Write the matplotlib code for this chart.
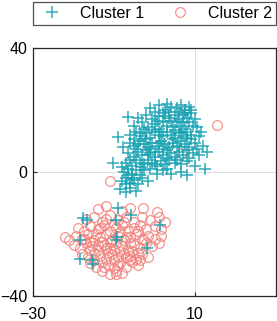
import matplotlib
matplotlib.use("Agg")
import matplotlib.pyplot as plt

plt.rcParams["font.family"] = ["Liberation Sans", "DejaVu Sans"]

# Cluster 1 points (x, y)
cluster1 = [
    # top rows
    (-1, 20.5), (1, 21.5), (2.5, 20), (4, 21), (5.5, 20.5), (6.5, 21.5), (7.5, 20), (8.5, 21), (3, 22), (0, 19.5),
    (-4, 17.5), (-2, 18.5), (-0.5, 17), (1, 18), (2, 19), (3.5, 17.5), (5, 18.5), (6, 17), (7, 18.5), (8, 17.5), (9, 19), (10, 17),
    (-5, 15), (-3, 16), (-1.5, 14.5), (0, 15.5), (1, 14), (2, 16), (3, 15), (4.5, 14.5), (5.5, 16), (6.5, 15), (7.5, 14), (8.5, 16), (9.5, 15), (10.5, 14.5),
    (-6, 12), (-4.5, 13), (-3, 11.5), (-2, 12.5), (-1, 11), (0, 13), (1, 12), (2, 11.5), (3, 13), (4, 12), (5, 11), (6, 12.5), (7, 11.5), (8, 13), (9, 12), (11, 11.5),
    (-7.8, 8), (-6, 9.5), (-5, 8.5), (-3.5, 10), (-2.5, 9), (-1.5, 8), (-0.5, 9.5), (0.5, 8.5), (1.5, 10), (2.5, 9), (3.5, 8), (4.5, 9.5), (5.5, 8.5), (6.5, 10), (7.5, 9), (8.5, 8), (10, 9.5), (12, 8.5),
    (-6.5, 6), (-5, 5), (-4, 6.5), (-3, 5.5), (-2, 7), (-1, 6), (0, 5), (1, 6.5), (2, 5.5), (3, 7), (4, 6), (5, 5), (6, 6.5), (7, 5.5), (8, 7), (9.5, 6), (11, 5.5), (13, 6.5),
    (-10.3, 2.9), (-7, 3), (-5.5, 2), (-4.5, 4), (-3.5, 3), (-2.5, 2.5), (-1.5, 4), (-0.5, 3), (0.5, 2), (1.5, 3.5), (2.5, 2.5), (3.5, 4), (5, 3), (6.5, 2.5), (8, 3.5), (10, 2),
    (-7.5, 0), (-6.5, 1), (-5.5, -0.5), (-4.5, 0.5), (-3.5, -1), (-2.5, 0.5), (-1, 1), (0.5, -0.5), (2, 0.5), (4, -0.5), (6.5, 0), (8, -1),
    (-8, -3), (-7, -2), (-6, -3.5), (-5, -2.5), (-4, -4), (-3, -2), (-1.5, -3),
    (-8.5, -5.5), (-7, -6.5), (-6, -5), (-4.5, -6),
    (-9, 11.3), (-6.5, 17.7), (12.5, 1),
    # denser core
    (-2.5, 14), (0.5, 16.5), (3.5, 19.5), (5, 13.5), (7, 16), (9, 10.5), (-4, 9), (-1, 7.5), (2, 7.5), (4.5, 10.5),
    (6, 8), (8.5, 4.5), (-6, 4), (-3, 1.5), (0, 2.5), (3, 1), (-5.5, -2), (-7, -4), (-2, 10.5), (1, 9.5),
    (6.5, 13), (4, 16.5), (-3.5, 12.5), (1.5, 13), (10.5, 7.5), (7.5, 19), (-1.5, 5.5), (5.5, 4), (-8, 1.5), (-4.5, 7.5),
    (2.5, 18), (8, 11), (-6.5, -1), (11.5, 13), (9, 20), (-0.5, 13.5), (3, 4.5), (6, 19.5), (-5, 10.5), (0, 6.5),
    # stragglers inside cluster 2
    (-9.1, -11.6), (-5.8, -13.9), (-16.7, -15.5), (-17.7, -14.8), (1.4, -17.1), (-9.3, -20.9), (-9.5, -22),
    (-18.4, -22), (-1.9, -24.5), (-18.4, -28), (-15.5, -28.4), (-15.2, -29.7), (-9.5, -15.5),
]

# Cluster 2 points (x, y)
cluster2 = [
    (-14, -12), (-12, -11), (-8, -12.5), (-6, -11.5), (-2.8, -11.6), (0.5, -13),
    (-17, -15), (-15, -14.5), (-13, -16), (-11, -14), (-9, -15.5), (-7, -14.5), (-5, -16), (-3, -14.5), (-1, -15.5), (1, -14.5), (2.5, -16),
    (-19, -18), (-17.5, -19), (-16, -17.5), (-14, -18.5), (-12.5, -17), (-11, -19), (-9.5, -18), (-8, -17), (-6.5, -19), (-5, -18), (-3.5, -17), (-2, -18.5), (0, -17.5), (1.5, -18.5),
    (-22, -21), (-21, -22), (-19.5, -20.5), (-18, -21.5), (-16.5, -20), (-15, -22), (-13.5, -21), (-12, -20), (-10.5, -21.5), (-9, -20.5), (-7.5, -22), (-6, -21), (-4.5, -20), (-3, -21.5), (-1.5, -20.5), (0, -21.5), (1.5, -20.5),
    (-20, -23.5), (-18.5, -24.5), (-17, -23), (-15.5, -24), (-14, -25), (-12.5, -23.5), (-11, -24.5), (-9.5, -23), (-8, -24), (-6.5, -25), (-5, -23.5), (-3.5, -24.5), (-2, -23), (-0.5, -24), (1, -23),
    (-18, -26.5), (-16.5, -27.5), (-15, -26), (-13.5, -27), (-12, -28), (-10.5, -26.5), (-9, -27.5), (-7.5, -26), (-6, -27), (-4.5, -28), (-3, -26.5), (-1.5, -27.5),
    (-16, -29.5), (-14.5, -30.5), (-13, -29), (-11.5, -30), (-10, -31), (-8.5, -29.5), (-7, -30.5), (-5.5, -29), (-4, -30),
    (-13, -32), (-11, -33), (-9.5, -32), (-8, -32.5),
    (-13, -22.5), (-11.5, -26), (-8.5, -25.5), (-10, -28.5), (-6, -28.5), (-14.5, -20), (-12, -24.5), (-7, -21), (-4, -26), (-16, -25),
    # denser core
    (-11, -22.5), (-8.5, -19.5), (-6, -23), (-13.5, -18), (-10, -17), (-4, -19), (-15, -28.5), (-12.5, -30.5), (-9, -30), (-7, -27.5),
    (-17.5, -21.5), (-2.5, -22), (-5.5, -25.5), (-10, -25), (-14, -23.5), (-12, -15), (-7.5, -16), (-3.5, -28.5), (-16, -22.5), (-9.5, -33),
    (7.5, 20), (15.4, 15.2), (6.5, 6.1), (-11, -2.9),
]

CLUSTER_COLORS = ["#17a2b3", "#f4817b"]
LABELS = ["Cluster 1", "Cluster 2"]

c1_x = [p[0] for p in cluster1]
c1_y = [p[1] for p in cluster1]
c2_x = [p[0] for p in cluster2]
c2_y = [p[1] for p in cluster2]

fig = plt.figure(figsize=(2.77, 3.21), dpi=100)
ax = fig.add_axes([33 / 277, 25 / 321, 243 / 277, 248 / 321])

ax.plot(c1_x, c1_y, linestyle="none", marker="+", markersize=9, markeredgewidth=1.1,
        color=CLUSTER_COLORS[0], alpha=0.9, label=LABELS[0], zorder=3)
ax.plot(c2_x, c2_y, linestyle="none", marker="o", markersize=7, markeredgewidth=0.9,
        markerfacecolor="none", markeredgecolor=CLUSTER_COLORS[1], alpha=0.85,
        label=LABELS[1], zorder=2)

ax.set_xlim(-30, 30)
ax.set_ylim(-40, 40)
ax.set_xticks([-30, 10])
ax.set_yticks([-40, 0, 40])
ax.grid(True, color="#dddddd", linewidth=0.8, zorder=0)
ax.set_axisbelow(True)
ax.tick_params(direction="in", length=3, width=0.8, labelsize=11.5, color="#262626")
ax.tick_params(axis="x", pad=8)
ax.tick_params(axis="y", pad=4)
for spine in ax.spines.values():
    spine.set_color("#262626")
    spine.set_linewidth(0.9)

leg = fig.legend(loc="lower left", bbox_to_anchor=(33 / 277, 1 - 25 / 321, 243 / 277, 23 / 321),
                 mode="expand", ncol=2, fontsize=11.5, frameon=True, fancybox=False,
                 borderaxespad=0, handlelength=1.9, handletextpad=0.8, columnspacing=1.0,
                 borderpad=0.25, numpoints=1)
leg.get_frame().set_edgecolor("#262626")
leg.get_frame().set_linewidth(0.9)

plt.savefig("out.png", dpi=100)
